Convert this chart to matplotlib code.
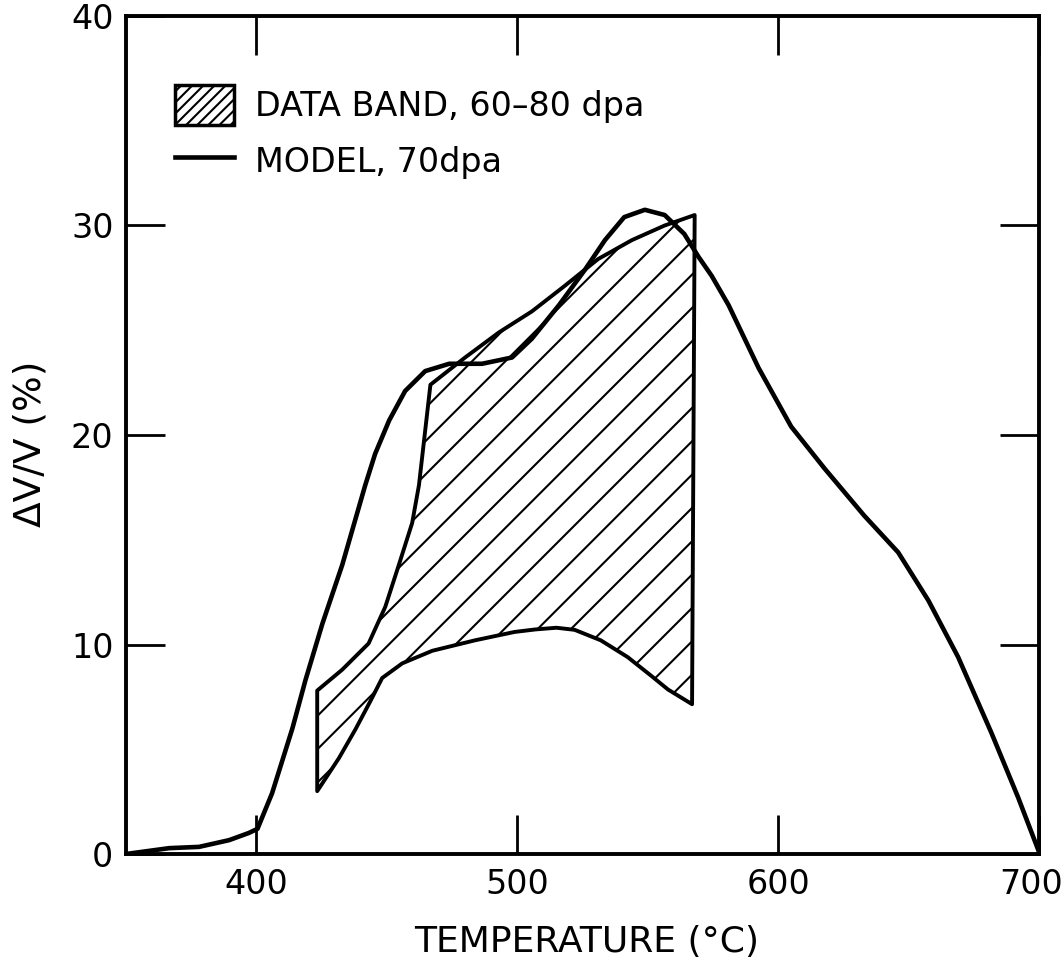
import matplotlib
matplotlib.use("Agg")
import matplotlib.pyplot as plt
from matplotlib.patches import Patch
from matplotlib.lines import Line2D
from matplotlib.transforms import ScaledTranslation

# ---- data ----
model_T = [350, 366.6, 378, 389.5, 397, 400.4, 406, 413.8, 418.8, 425.3, 432.9,
           441.7, 445.5, 450.9, 457, 464.7, 473.9, 486.5, 498, 505.6, 516, 526,
           533.6, 541, 548.9, 556.5, 564, 569.5, 574.5, 581, 592.5, 605,
           617.8, 633, 646, 657.6, 669, 681.7, 692, 700]
model_V = [0, 0.28, 0.34, 0.66, 1.0, 1.2, 2.9, 6.0, 8.3, 11.0, 13.8,
           17.6, 19.1, 20.7, 22.1, 23.05, 23.4, 23.4, 23.7, 24.6, 26.2, 27.9,
           29.3, 30.4, 30.75, 30.5, 29.6, 28.5, 27.6, 26.2, 23.2, 20.4,
           18.4, 16.15, 14.4, 12.1, 9.4, 5.8, 2.7, 0.1]

# data band outline (upper edge left->right, then lower edge right->left)
band_upper_T = [423.3, 423.3, 432.9, 443, 449.4, 454.6, 459.7, 462.3, 466.7,
                480, 493, 505.6, 518, 531, 543.9, 556.5, 568]
band_upper_V = [3.0, 7.8, 8.8, 10.05, 11.8, 13.8, 15.8, 17.6, 22.4,
                23.7, 24.9, 25.9, 27.1, 28.4, 29.3, 30.0, 30.5]
band_lower_T = [567, 557.8, 551.4, 542.3, 532, 522, 515, 507, 499, 483.8,
                467.4, 455.9, 448.2, 443.7, 438, 431.6, 423.3]
band_lower_V = [7.15, 7.85, 8.5, 9.4, 10.2, 10.7, 10.8, 10.72, 10.6, 10.2,
                9.7, 9.1, 8.4, 7.3, 5.96, 4.57, 3.0]

x_ticks = [400, 500, 600, 700]
y_ticks = [0, 10, 20, 30, 40]
x_label = "TEMPERATURE (°C)"
y_label = "ΔV/V (%)"
band_label = "DATA BAND, 60–80 dpa"
model_label = "MODEL, 70dpa"

plt.rcParams['font.family'] = ['DejaVu Sans']
plt.rcParams['hatch.linewidth'] = 1.5

FS = 24
fig = plt.figure(figsize=(10.64, 9.65), dpi=100)
L, R, B, T = 126, 1039, 854, 16
ax = fig.add_axes([L / 1064, 1 - B / 965, (R - L) / 1064, (B - T) / 965])

band_T = band_upper_T + band_lower_T
band_V = band_upper_V + band_lower_V
ax.fill(band_T, band_V, facecolor='none', edgecolor='black', hatch='/',
        linewidth=2.8, joinstyle='round')
ax.plot(model_T, model_V, color='black', linewidth=3.3, solid_joinstyle='round',
        solid_capstyle='round')

ax.set_xlim(350, 700)
ax.set_ylim(0, 40)
ax.set_xticks(x_ticks)
ax.set_yticks(y_ticks)
ax.tick_params(direction='in', length=28, width=2, top=True, right=True,
               labelsize=FS, colors='black')
ax.tick_params(axis='x', pad=10)
ax.tick_params(axis='y', pad=9)
for s in ax.spines.values():
    s.set_linewidth(2.8)

# keep the last x tick label inside the figure, as in the reference
last = ax.get_xticklabels()[-1]
last.set_transform(last.get_transform() + ScaledTranslation(-0.08, 0, fig.dpi_scale_trans))

ax.set_xlabel(x_label, fontsize=26)
ax.set_ylabel(y_label, fontsize=27)
ax.xaxis.set_label_coords(0.505, -0.085)
ax.yaxis.set_label_coords(-0.085, 0.49)

handles = [Patch(facecolor='white', edgecolor='black', hatch='///', linewidth=2.5),
           Line2D([], [], color='black', linewidth=3.3)]
ax.legend(handles, [band_label, model_label], loc='upper left',
          bbox_to_anchor=((175 - L) / (R - L), (B - 85) / (B - T)),
          frameon=False, fontsize=FS, borderpad=0, borderaxespad=0,
          handlelength=1.77, handleheight=1.45, handletextpad=0.63,
          labelspacing=0.5)

fig.savefig("out.png", dpi=100)
